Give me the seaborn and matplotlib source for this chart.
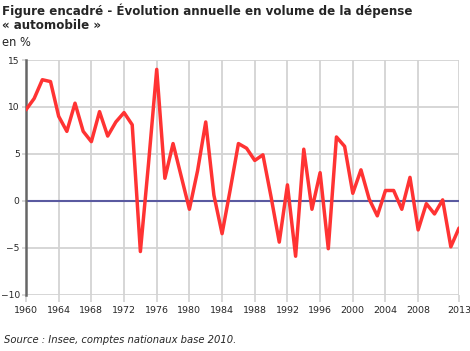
import numpy as np
import pandas as pd
import matplotlib
matplotlib.use("Agg")
import matplotlib.pyplot as plt
import seaborn as sns

# Data (annual change in volume, %)
years = list(range(1960, 2014))
values = [
    9.7, 10.9, 12.9, 12.7, 9.0, 7.4, 10.4, 7.4, 6.3, 9.5,
    6.9, 8.4, 9.4, 8.1, -5.4, 4.0, 14.0, 2.4, 6.1, 2.6,
    -0.9, 3.2, 8.4, 0.6, -3.5, 1.2, 6.1, 5.6, 4.3, 4.9,
    0.4, -4.4, 1.7, -5.9, 5.5, -0.9, 3.0, -5.1, 6.8, 5.8,
    0.8, 3.3, 0.2, -1.6, 1.1, 1.1, -0.9, 2.5, -3.1, -0.3,
    -1.4, 0.1, -4.9, -2.9,
]
x_ticks = [1960, 1964, 1968, 1972, 1976, 1980, 1984, 1988, 1992, 1996, 2000, 2004, 2008, 2013]
y_ticks = [-10, -5, 0, 5, 10, 15]

title = "Figure encadré - Évolution annuelle en volume de la dépense\n« automobile »"
unit_label = "en %"
source = "Source : Insee, comptes nationaux base 2010."

df = pd.DataFrame({"annee": years, "evolution": values})

sns.set_style("white")
plt.rcParams["font.family"] = ["DejaVu Sans"]

fig = plt.figure(figsize=(4.70, 3.51), dpi=100)
W, H = 470, 351
ax = fig.add_axes([26 / W, 1 - 294.7 / H, (459 - 26) / W, (294.7 - 60) / H])

grid_col = "#d3d3d3"
for xt in x_ticks:
    ax.axvline(xt, color=grid_col, lw=1.3, zorder=0)
for yt in y_ticks:
    ax.axhline(yt, color=grid_col, lw=1.3, zorder=0)
ax.axhline(0, color="#5a5aa0", lw=1.5, zorder=1)

sns.lineplot(data=df, x="annee", y="evolution", ax=ax, color="#ff3333", lw=2.5, zorder=3)

ax.set_xlim(1960, 2013)
ax.set_ylim(-10, 15)
ax.set_xticks(x_ticks)
ax.set_yticks(y_ticks)
ax.set_xlabel("")
ax.set_ylabel("")
for side in ["top", "right", "bottom"]:
    ax.spines[side].set_visible(False)
ax.spines["left"].set_color("#666666")
ax.spines["left"].set_linewidth(1.8)
ax.tick_params(axis="x", length=5, width=1.2, color=grid_col, labelsize=6.8, pad=3)
ax.tick_params(axis="y", length=3, width=1.2, color=grid_col, labelsize=6.6, pad=1.5)
ax.tick_params(bottom=True, left=True)

fig.text(2 / W, 1 - 3 / H, title, ha="left", va="top", fontsize=8.6,
         fontweight="bold", linespacing=1.15)
fig.text(2 / W, 1 - 42 / H, unit_label, ha="left", va="center", fontsize=8.3)
fig.text(4 / W, 1 - 340 / H, source, ha="left", va="center", fontsize=7.2, style="italic")

fig.savefig("out.png", dpi=100)
